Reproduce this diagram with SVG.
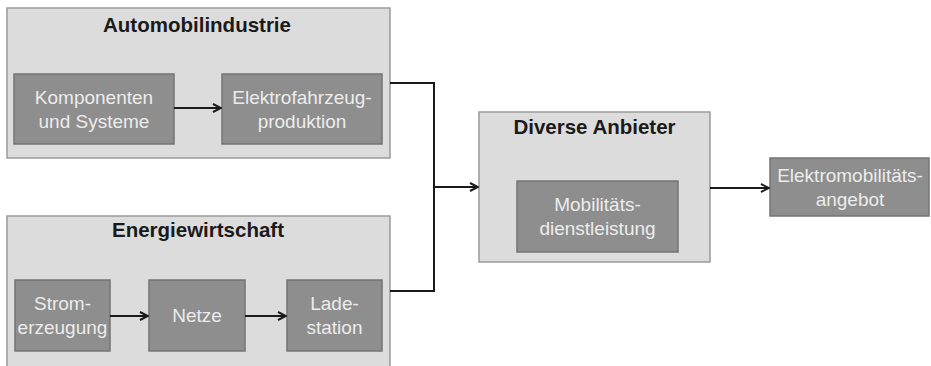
<svg xmlns="http://www.w3.org/2000/svg" width="931" height="366" viewBox="0 0 931 366">
<style>
.outer{fill:#dcdcdc;stroke:#9a9a9a;stroke-width:1.5}
.inner{fill:#8e8e8e;stroke:#747474;stroke-width:1.5}
.title{font-family:"Liberation Sans",Arial,sans-serif;font-weight:bold;font-size:20.5px;fill:#1a1a1a;text-anchor:middle}
.lbl{font-family:"Liberation Sans",Arial,sans-serif;font-size:19px;fill:#ececec;text-anchor:middle}
.con{fill:none;stroke:#1a1a1a;stroke-width:2}
</style>
<defs>
<marker id="ah" viewBox="0 0 10 10" refX="9" refY="5" markerWidth="10" markerHeight="10" markerUnits="userSpaceOnUse" orient="auto">
<path d="M1,1 L9,5 L1,9" fill="none" stroke="#1a1a1a" stroke-width="2"/>
</marker>
</defs>
<g id="automobilindustrie">
<rect class="outer" x="7" y="8" width="383" height="150"/>
<text class="title" x="197" y="32">Automobilindustrie</text>
</g>
<g id="komponenten">
<rect class="inner" x="14" y="74" width="160" height="70"/>
<text class="lbl" x="94" y="103.5">Komponenten</text>
<text class="lbl" x="94" y="127.5">und Systeme</text>
</g>
<g id="elektrofahrzeug">
<rect class="inner" x="222" y="74" width="160" height="70"/>
<text class="lbl" x="302" y="103.5">Elektrofahrzeug-</text>
<text class="lbl" x="302" y="127.5">produktion</text>
</g>
<g id="energiewirtschaft">
<rect class="outer" x="7" y="216" width="383" height="152"/>
<text class="title" x="198" y="237">Energiewirtschaft</text>
</g>
<g id="stromerzeugung">
<rect class="inner" x="15" y="280" width="95" height="71"/>
<text class="lbl" x="62.5" y="310">Strom-</text>
<text class="lbl" x="62.5" y="334">erzeugung</text>
</g>
<g id="netze">
<rect class="inner" x="149" y="280" width="96" height="71"/>
<text class="lbl" x="197" y="322">Netze</text>
</g>
<g id="ladestation">
<rect class="inner" x="287" y="280" width="95" height="71"/>
<text class="lbl" x="334.5" y="310">Lade-</text>
<text class="lbl" x="334.5" y="334">station</text>
</g>
<g id="diverse">
<rect class="outer" x="479" y="112" width="231" height="150"/>
<text class="title" x="594.5" y="134">Diverse Anbieter</text>
</g>
<g id="mobilitaet">
<rect class="inner" x="517" y="181" width="161" height="71"/>
<text class="lbl" x="597.5" y="211">Mobilitäts-</text>
<text class="lbl" x="597.5" y="235">dienstleistung</text>
</g>
<g id="elektromobilitaet">
<rect class="inner" x="770" y="158" width="159" height="58"/>
<text class="lbl" x="850" y="182">Elektromobilitäts-</text>
<text class="lbl" x="850" y="206">angebot</text>
</g>
<g id="connectors">
<line class="con" x1="174" y1="108" x2="221" y2="108" marker-end="url(#ah)"/>
<line class="con" x1="110" y1="316" x2="148" y2="316" marker-end="url(#ah)"/>
<line class="con" x1="245" y1="316" x2="286" y2="316" marker-end="url(#ah)"/>
<polyline class="con" points="390,83 434,83 434,291 390,291"/>
<line class="con" x1="434" y1="187" x2="478" y2="187" marker-end="url(#ah)"/>
<line class="con" x1="710" y1="188" x2="769" y2="188" marker-end="url(#ah)"/>
</g>
</svg>
